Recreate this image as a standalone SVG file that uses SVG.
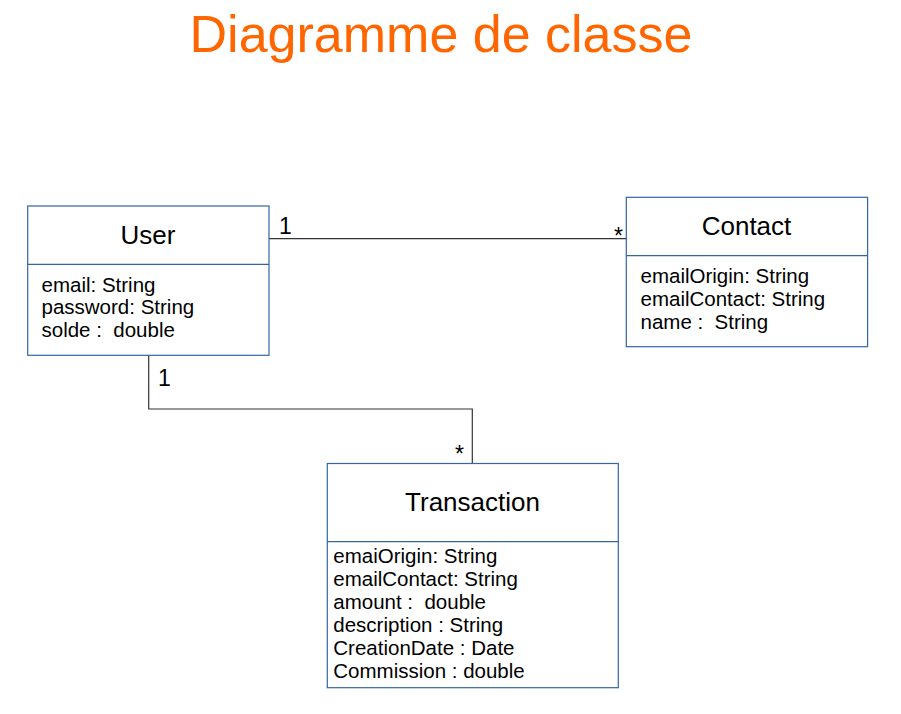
<svg xmlns="http://www.w3.org/2000/svg" width="901" height="714" viewBox="0 0 901 714">
<style>
text{font-family:"Liberation Sans",Arial,sans-serif;fill:#000;white-space:pre}
.box{fill:#fff;stroke:#3465a4;stroke-width:1.2}
.div{stroke:#3465a4;stroke-width:1.2}
.name{font-size:26px;text-anchor:middle}
.attr{font-size:20.5px}
.mult{font-size:23px}
.conn{fill:none;stroke:#333;stroke-width:1.2}
</style>
<rect width="901" height="714" fill="#fff"/>
<text x="441" y="52" style="font-size:52px;fill:#ff6600;text-anchor:middle">Diagramme de classe</text>
<g id="connectors">
<line class="conn" x1="269" y1="238.7" x2="626" y2="238.7"/>
<polyline class="conn" points="148.7,355 148.7,409 472.3,409 472.3,463.5"/>
<text class="mult" x="279" y="234">1</text>
<text class="mult" x="623" y="244" text-anchor="end">*</text>
<text class="mult" x="158" y="386">1</text>
<text class="mult" x="464" y="462" text-anchor="end">*</text>
</g>
<g id="user">
<rect class="box" x="27.7" y="206" width="241.3" height="149.3"/>
<line class="div" x1="27.7" y1="264.3" x2="269" y2="264.3"/>
<text class="name" x="148" y="244">User</text>
<text class="attr" x="41.5" y="291.5">email: String</text>
<text class="attr" x="41.5" y="314.3">password: String</text>
<text class="attr" x="41.5" y="337">solde :  double</text>
</g>
<g id="contact">
<rect class="box" x="626.3" y="197.3" width="241.3" height="149.4"/>
<line class="div" x1="626.3" y1="255.7" x2="867.6" y2="255.7"/>
<text class="name" x="746.5" y="235">Contact</text>
<text class="attr" x="640.5" y="283.3">emailOrigin: String</text>
<text class="attr" x="640.5" y="306">emailContact: String</text>
<text class="attr" x="640.5" y="328.6">name :  String</text>
</g>
<g id="transaction">
<rect class="box" x="327.3" y="463.5" width="291" height="224.2"/>
<line class="div" x1="327.3" y1="541.7" x2="618.3" y2="541.7"/>
<text class="name" x="472.5" y="511">Transaction</text>
<text class="attr" x="333.3" y="563.3">emaiOrigin: String</text>
<text class="attr" x="333.3" y="586.3">emailContact: String</text>
<text class="attr" x="333.3" y="609.3">amount :  double</text>
<text class="attr" x="333.3" y="632.3">description : String</text>
<text class="attr" x="333.3" y="655.3">CreationDate : Date</text>
<text class="attr" x="333.3" y="678.3">Commission : double</text>
</g>
</svg>
